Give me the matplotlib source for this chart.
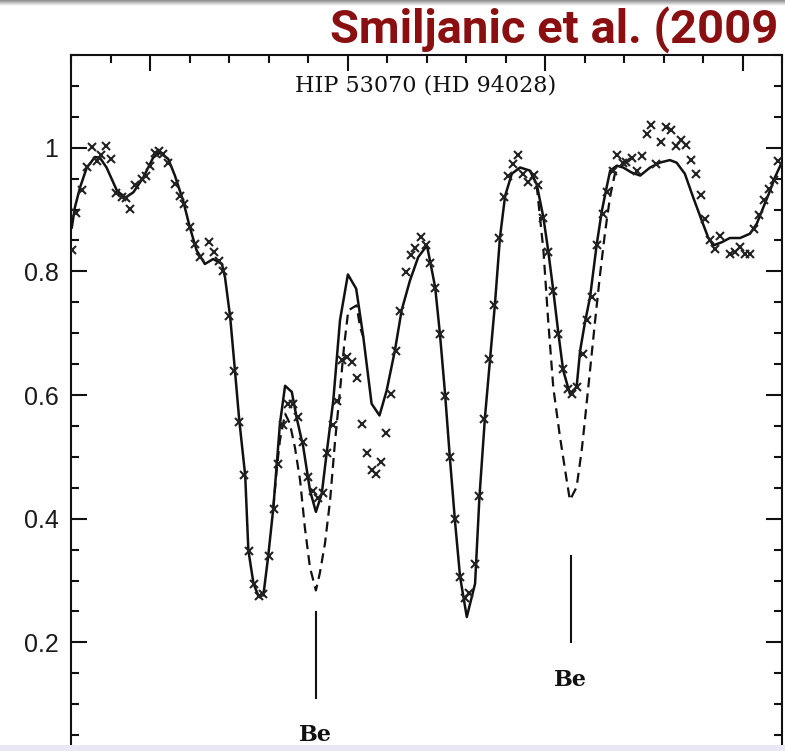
"""
Be II 3130-3131 A region of HIP 53070 (HD 94028), after Smiljanic et al. (2009).
Observed spectrum (crosses), best-fit synthesis (solid) and a higher-Be synthesis (dashed).
"""

import numpy as np
import matplotlib
matplotlib.use("Agg")
import matplotlib.pyplot as plt
from matplotlib import font_manager
from matplotlib.patches import Rectangle
from matplotlib.ticker import MultipleLocator, FuncFormatter

# ── Best-fit synthetic spectrum (solid) ──
model_wave = [
    3129.802, 3129.810, 3129.823, 3129.840, 3129.861, 3129.873, 3129.890, 3129.916,
    3129.937, 3129.958, 3129.983, 3130.008, 3130.025, 3130.046, 3130.063, 3130.084,
    3130.101, 3130.118, 3130.139, 3130.160, 3130.182, 3130.190, 3130.203, 3130.215,
    3130.226, 3130.241, 3130.249, 3130.262, 3130.274, 3130.287, 3130.299, 3130.312,
    3130.321, 3130.329, 3130.342, 3130.359, 3130.371, 3130.388, 3130.405, 3130.420,
    3130.435, 3130.447, 3130.464, 3130.481, 3130.501, 3130.522, 3130.540, 3130.561,
    3130.581, 3130.599, 3130.620, 3130.637, 3130.658, 3130.679, 3130.701, 3130.709,
    3130.722, 3130.734, 3130.747, 3130.759, 3130.772, 3130.785, 3130.802, 3130.823,
    3130.834, 3130.848, 3130.861, 3130.873, 3130.886, 3130.899, 3130.916, 3130.937,
    3130.962, 3130.979, 3130.996, 3131.008, 3131.021, 3131.034, 3131.046, 3131.063,
    3131.080, 3131.089, 3131.101, 3131.114, 3131.131, 3131.144, 3131.156, 3131.165,
    3131.182, 3131.198, 3131.219, 3131.241, 3131.266, 3131.291, 3131.316, 3131.333,
    3131.354, 3131.375, 3131.397, 3131.413, 3131.426, 3131.447, 3131.468, 3131.494,
    3131.519, 3131.536, 3131.553, 3131.570, 3131.582, 3131.600,
]
model_flux = [
    0.871, 0.904, 0.936, 0.968, 0.985, 0.984, 0.968, 0.931,
    0.919, 0.928, 0.952, 0.984, 0.992, 0.982, 0.955, 0.914,
    0.871, 0.834, 0.812, 0.820, 0.812, 0.790, 0.726, 0.640,
    0.559, 0.470, 0.349, 0.295, 0.276, 0.276, 0.338, 0.416,
    0.489, 0.554, 0.615, 0.605, 0.564, 0.516, 0.446, 0.411,
    0.441, 0.505, 0.591, 0.721, 0.795, 0.772, 0.694, 0.586,
    0.567, 0.607, 0.672, 0.737, 0.785, 0.823, 0.842, 0.817,
    0.774, 0.699, 0.602, 0.500, 0.397, 0.306, 0.241, 0.295,
    0.435, 0.564, 0.659, 0.745, 0.855, 0.922, 0.958, 0.968,
    0.963, 0.941, 0.887, 0.834, 0.769, 0.699, 0.640, 0.602,
    0.613, 0.672, 0.717, 0.758, 0.844, 0.898, 0.936, 0.963,
    0.971, 0.968, 0.960, 0.955, 0.968, 0.976, 0.980, 0.976,
    0.958, 0.920, 0.882, 0.855, 0.842, 0.847, 0.854, 0.854,
    0.861, 0.877, 0.904, 0.931, 0.952, 0.977,
]

# ── Higher-Be synthesis (dashed), only where it departs from the fit ──
alt1_wave = [
    3130.312, 3130.321, 3130.329, 3130.342, 3130.354, 3130.367, 3130.380, 3130.392,
    3130.405, 3130.420, 3130.430, 3130.443, 3130.456, 3130.468, 3130.481, 3130.491,
    3130.502, 3130.523, 3130.532, 3130.540,
]
alt1_flux = [
    0.416, 0.481, 0.527, 0.570, 0.554, 0.515, 0.462, 0.386,
    0.321, 0.284, 0.312, 0.360, 0.430, 0.522, 0.607, 0.677,
    0.737, 0.745, 0.709, 0.694,
]
alt2_wave = [
    3130.962, 3130.979, 3130.996, 3131.008, 3131.021, 3131.038, 3131.055, 3131.063,
    3131.080, 3131.093, 3131.101, 3131.114, 3131.127, 3131.139, 3131.152, 3131.165,
    3131.177, 3131.190,
]
alt2_flux = [
    0.963, 0.939, 0.834, 0.721, 0.612, 0.532, 0.462, 0.430,
    0.451, 0.511, 0.559, 0.640, 0.721, 0.793, 0.863, 0.922,
    0.958, 0.969,
]

# ── Observed spectrum (crosses) ──
obs_wave = [
    3129.802, 3129.813, 3129.827, 3129.841, 3129.852, 3129.865, 3129.875, 3129.889,
    3129.901, 3129.915, 3129.928, 3129.939, 3129.950, 3129.963, 3129.980, 3129.990,
    3130.000, 3130.013, 3130.024, 3130.034, 3130.046, 3130.063, 3130.075, 3130.087,
    3130.101, 3130.113, 3130.127, 3130.150, 3130.163, 3130.174, 3130.186, 3130.201,
    3130.213, 3130.226, 3130.238, 3130.250, 3130.263, 3130.275, 3130.287, 3130.301,
    3130.313, 3130.325, 3130.336, 3130.350, 3130.361, 3130.375, 3130.388, 3130.399,
    3130.413, 3130.426, 3130.439, 3130.449, 3130.464, 3130.473, 3130.485, 3130.498,
    3130.511, 3130.523, 3130.536, 3130.549, 3130.561, 3130.572, 3130.586, 3130.598,
    3130.611, 3130.624, 3130.634, 3130.648, 3130.660, 3130.671, 3130.685, 3130.699,
    3130.709, 3130.722, 3130.734, 3130.747, 3130.759, 3130.772, 3130.785, 3130.797,
    3130.808, 3130.823, 3130.834, 3130.846, 3130.859, 3130.872, 3130.883, 3130.896,
    3130.907, 3130.920, 3130.932, 3130.945, 3130.958, 3130.972, 3130.983, 3130.996,
    3131.008, 3131.021, 3131.034, 3131.045, 3131.057, 3131.068, 3131.080, 3131.095,
    3131.107, 3131.118, 3131.132, 3131.146, 3131.158, 3131.171, 3131.182, 3131.197,
    3131.206, 3131.219, 3131.232, 3131.245, 3131.257, 3131.268, 3131.282, 3131.294,
    3131.306, 3131.318, 3131.332, 3131.344, 3131.357, 3131.369, 3131.382, 3131.394,
    3131.405, 3131.418, 3131.430, 3131.444, 3131.469, 3131.481, 3131.494, 3131.506,
    3131.519, 3131.528, 3131.543, 3131.555, 3131.568, 3131.580, 3131.591,
]
obs_flux = [
    0.834, 0.895, 0.931, 0.969, 1.002, 0.979, 0.989, 1.003,
    0.982, 0.926, 0.920, 0.919, 0.901, 0.940, 0.950, 0.955,
    0.970, 0.992, 0.995, 0.990, 0.975, 0.941, 0.922, 0.909,
    0.871, 0.844, 0.824, 0.847, 0.832, 0.817, 0.801, 0.728,
    0.639, 0.556, 0.470, 0.348, 0.294, 0.275, 0.278, 0.340,
    0.416, 0.488, 0.551, 0.585, 0.585, 0.565, 0.524, 0.468,
    0.445, 0.434, 0.441, 0.506, 0.551, 0.591, 0.657, 0.661,
    0.653, 0.628, 0.553, 0.506, 0.478, 0.473, 0.492, 0.538,
    0.601, 0.672, 0.736, 0.799, 0.827, 0.838, 0.855, 0.842,
    0.813, 0.773, 0.699, 0.599, 0.500, 0.399, 0.306, 0.271,
    0.280, 0.326, 0.436, 0.562, 0.659, 0.745, 0.854, 0.921,
    0.955, 0.973, 0.989, 0.958, 0.944, 0.956, 0.940, 0.887,
    0.831, 0.769, 0.699, 0.642, 0.610, 0.602, 0.613, 0.667,
    0.721, 0.759, 0.843, 0.893, 0.929, 0.962, 0.988, 0.976,
    0.977, 0.984, 0.963, 0.987, 1.022, 1.037, 0.974, 1.009,
    1.034, 1.029, 1.003, 1.012, 1.004, 0.980, 0.958, 0.924,
    0.885, 0.851, 0.836, 0.857, 0.828, 0.832, 0.840, 0.828,
    0.828, 0.869, 0.891, 0.915, 0.934, 0.948, 0.978,
]

# ── Be II line markers ──
be_wave = [3130.420, 3131.065]
be_bar_top = [0.249, 0.339]
be_bar_bottom = [0.110, 0.200]
be_label_y = [0.050, 0.139]

star_name = "HIP 53070 (HD 94028)"
credit = "Smiljanic et al. (2009"


def pick_font(candidates, fallback="DejaVu Sans"):
    """Return the first installed family from candidates."""
    for name in candidates:
        try:
            font_manager.findfont(font_manager.FontProperties(family=name),
                                  fallback_to_default=False)
            return name
        except ValueError:
            continue
    return fallback


W, H = 785, 751
fig = plt.figure(figsize=(W / 100, H / 100), dpi=100)
fig.patch.set_facecolor("white")

# slide decorations: shadow at top, lavender strip at bottom
shadow = fig.add_axes([0, 1 - 6 / H, 1, 6 / H])
shadow.imshow(np.linspace(0.55, 1.0, 20).reshape(-1, 1), cmap="gray",
              aspect="auto", vmin=0, vmax=1, extent=[0, 1, 0, 1])
shadow.axis("off")
fig.patches.append(Rectangle((0, 0), 1, 6 / H, transform=fig.transFigure,
                             facecolor="#e9e7f6", edgecolor="none", zorder=5))

# axes box: x 71..782 px, y 55..766 px (bottom runs off the slide crop)
ax = fig.add_axes([71 / W, 1 - 766 / H, 711 / W, 711 / H])
ax.set_xlim(3129.8, 3131.6)
ax.set_ylim(0.0, 1.15)

ink = "#111111"
ax.plot(model_wave, model_flux, color=ink, lw=1.8, zorder=3)
ax.plot(alt1_wave, alt1_flux, color=ink, lw=1.6, dashes=(4.5, 2.7), zorder=3)
ax.plot(alt2_wave, alt2_flux, color=ink, lw=1.6, dashes=(4.5, 2.7), zorder=3)
ax.plot(obs_wave, obs_flux, ls="none", marker="x", ms=5.5, mew=1.5,
        color="#222222", zorder=4)

for w, top, bot, ly in zip(be_wave, be_bar_top, be_bar_bottom, be_label_y):
    ax.plot([w, w], [bot, top], color=ink, lw=1.5)
    ax.text(w, ly, "Be", ha="center", va="center", fontsize=16,
            fontweight="bold", family="DejaVu Serif", color=ink)

ax.text(3130.699, 1.100, star_name, ha="center", va="center", fontsize=16,
        family="DejaVu Serif", color=ink)

# ticks inside on all sides, IDL style
ax.xaxis.set_major_locator(MultipleLocator(0.5))
ax.xaxis.set_minor_locator(MultipleLocator(0.1))
ax.yaxis.set_major_locator(MultipleLocator(0.2))
ax.yaxis.set_minor_locator(MultipleLocator(0.05))
ax.yaxis.set_major_formatter(
    FuncFormatter(lambda v, _: f"{v:g}" if v > 0.1 else ""))
ax.tick_params(which="both", direction="in", top=True, right=True,
               bottom=True, left=True, labelbottom=False, width=1.5, color=ink)
ax.tick_params(which="major", length=11.5, labelsize=18, pad=9)
ax.tick_params(which="minor", length=5.8)
for lab in ax.get_yticklabels():
    lab.set_family("Liberation Sans")
    lab.set_color("#1a1a1a")
for side in ax.spines.values():
    side.set_linewidth(1.5)
    side.set_color(ink)

# slide heading, sized to span the visible width of the crop
head_font = pick_font(["Roboto", "Open Sans", "Liberation Sans"])
head = fig.text(330 / W, 1 - 43 / H, credit, ha="left", va="baseline",
                fontsize=30, fontweight="bold", family=head_font,
                color="#8a0f10")
fig.canvas.draw()
span = head.get_window_extent().width
head.set_fontsize(30 * 448 / span)

fig.savefig("out.png", dpi=100, facecolor=fig.get_facecolor())
